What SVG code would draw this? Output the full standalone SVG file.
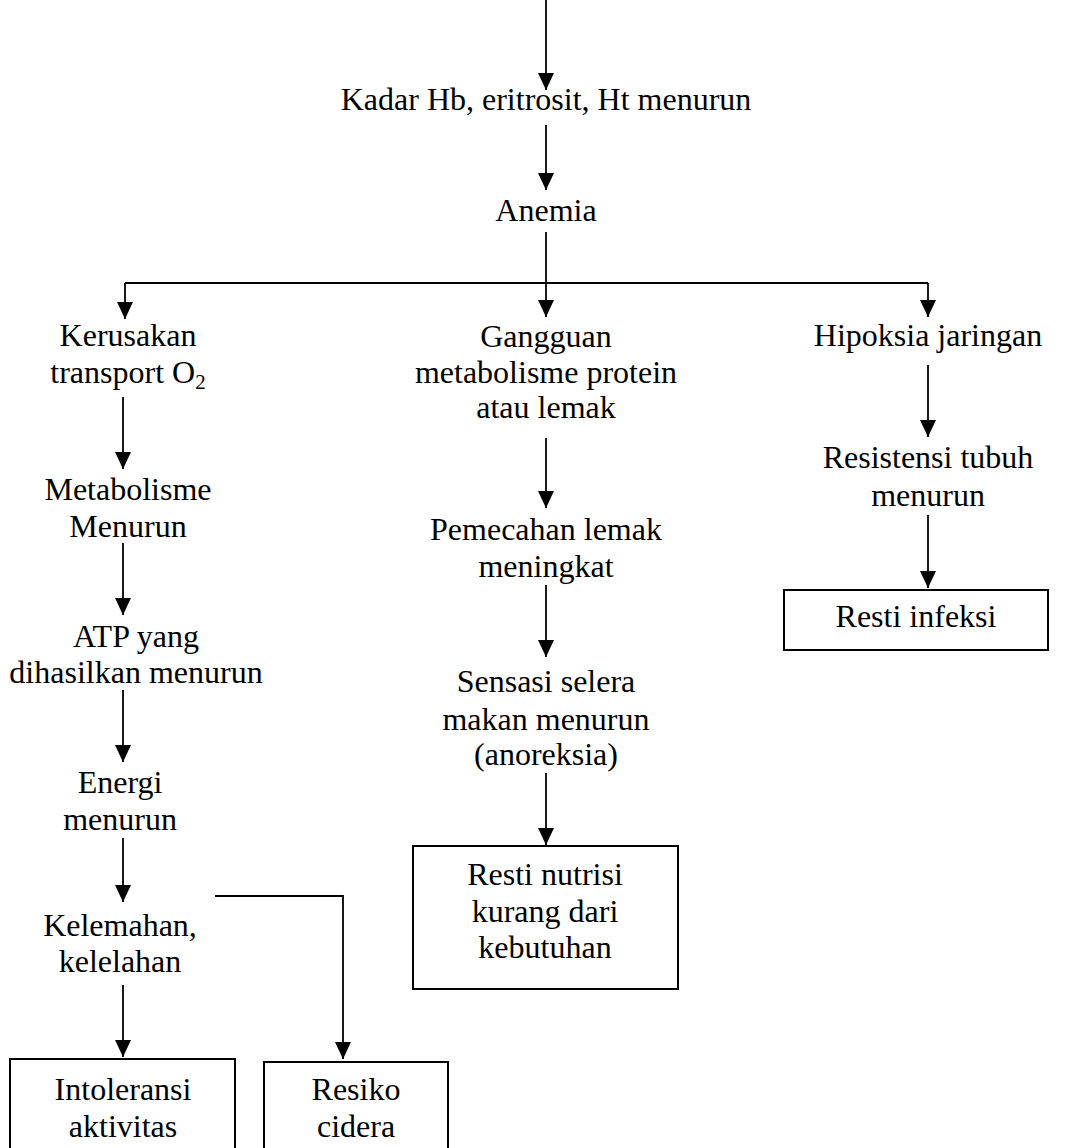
<svg xmlns="http://www.w3.org/2000/svg" width="1066" height="1148" viewBox="0 0 1066 1148">
<style>
text{font-family:"Liberation Serif","Times New Roman",serif;font-size:32px;fill:#000;text-anchor:middle}
.c{fill:none;stroke:#000;stroke-width:1.8}
.b{fill:#fff;stroke:#000;stroke-width:2}
</style>
<defs>
<marker id="ah" markerUnits="userSpaceOnUse" markerWidth="17" markerHeight="16" refX="17" refY="8" orient="auto" viewBox="0 0 17 16">
<path d="M0,0 L17,8 L0,16 Z" fill="#000"/>
</marker>
</defs>
<g id="connectors">
<path class="c" d="M546,0 V90" marker-end="url(#ah)"/>
<path class="c" d="M546,125 V190" marker-end="url(#ah)"/>
<path class="c" d="M546,232 V317" marker-end="url(#ah)"/>
<path class="c" d="M125,283 H928"/>
<path class="c" d="M125,283 V319" marker-end="url(#ah)"/>
<path class="c" d="M928,283 V317" marker-end="url(#ah)"/>
<path class="c" d="M123,397 V469" marker-end="url(#ah)"/>
<path class="c" d="M123,543 V615" marker-end="url(#ah)"/>
<path class="c" d="M123,690 V762" marker-end="url(#ah)"/>
<path class="c" d="M123,838 V902" marker-end="url(#ah)"/>
<path class="c" d="M123,985 V1057" marker-end="url(#ah)"/>
<path class="c" d="M215,896 H343 V1059" marker-end="url(#ah)"/>
<path class="c" d="M546,438 V508" marker-end="url(#ah)"/>
<path class="c" d="M546,585 V657" marker-end="url(#ah)"/>
<path class="c" d="M546,773 V845" marker-end="url(#ah)"/>
<path class="c" d="M928,365 V437" marker-end="url(#ah)"/>
<path class="c" d="M928,515 V588" marker-end="url(#ah)"/>
</g>
<g id="n-kadar"><text x="546" y="110">Kadar Hb, eritrosit, Ht menurun</text></g>
<g id="n-anemia"><text x="546" y="221">Anemia</text></g>
<g id="n-kerusakan"><text x="128" y="346">Kerusakan</text><text x="128" y="383">transport O<tspan font-size="21" dy="6">2</tspan></text></g>
<g id="n-metabolisme"><text x="128" y="500">Metabolisme</text><text x="128" y="537">Menurun</text></g>
<g id="n-atp"><text x="136" y="647">ATP yang</text><text x="136" y="683">dihasilkan menurun</text></g>
<g id="n-energi"><text x="120" y="793">Energi</text><text x="120" y="830">menurun</text></g>
<g id="n-kelemahan"><text x="120" y="936">Kelemahan,</text><text x="120" y="972">kelelahan</text></g>
<g id="n-intoleransi"><rect class="b" x="10" y="1059" width="225" height="100"/><text x="123" y="1100">Intoleransi</text><text x="123" y="1137">aktivitas</text></g>
<g id="n-resiko"><rect class="b" x="264" y="1062" width="184" height="100"/><text x="356" y="1100">Resiko</text><text x="356" y="1137">cidera</text></g>
<g id="n-gangguan"><text x="546" y="347">Gangguan</text><text x="546" y="383">metabolisme protein</text><text x="546" y="418">atau lemak</text></g>
<g id="n-pemecahan"><text x="546" y="540">Pemecahan lemak</text><text x="546" y="577">meningkat</text></g>
<g id="n-sensasi"><text x="546" y="692">Sensasi selera</text><text x="546" y="730">makan menurun</text><text x="546" y="765">(anoreksia)</text></g>
<g id="n-nutrisi"><rect class="b" x="413" y="846" width="265" height="143"/><text x="545" y="885">Resti nutrisi</text><text x="545" y="922">kurang dari</text><text x="545" y="958">kebutuhan</text></g>
<g id="n-hipoksia"><text x="928" y="346">Hipoksia jaringan</text></g>
<g id="n-resistensi"><text x="928" y="468">Resistensi tubuh</text><text x="928" y="506">menurun</text></g>
<g id="n-infeksi"><rect class="b" x="784" y="590" width="264" height="60"/><text x="916" y="627">Resti infeksi</text></g>
</svg>
